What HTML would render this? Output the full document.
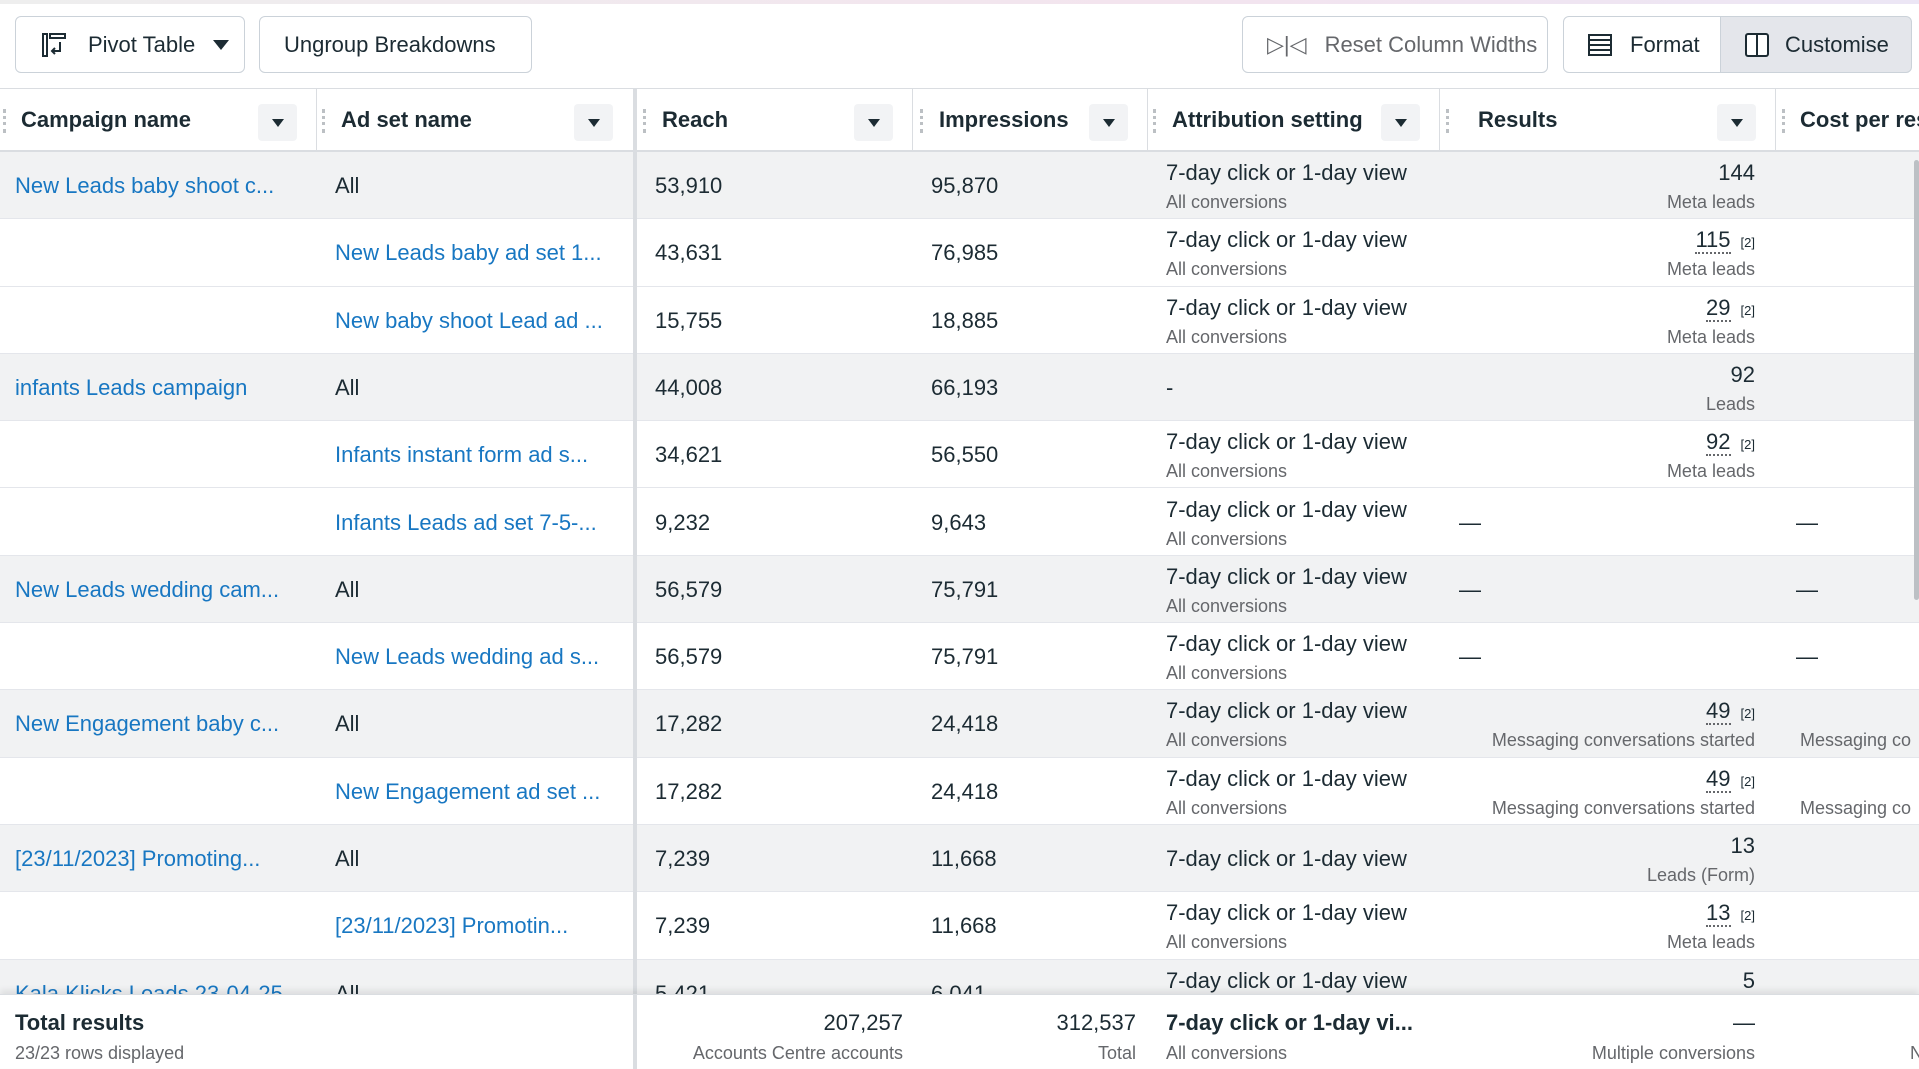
<!DOCTYPE html>
<html><head><meta charset="utf-8"><style>
*{box-sizing:border-box;margin:0;padding:0}
body{width:1919px;height:1068px;overflow:hidden;background:#fff;font-family:"Liberation Sans",sans-serif;color:#1c2b33;position:relative}
.a{position:absolute;white-space:nowrap}
.btn{position:absolute;top:16px;height:57px;border:1px solid #cbd2d9;border-radius:6px;background:#fff;font-size:22px;display:flex;align-items:center;padding-left:24px;white-space:nowrap}
.hd{position:absolute;top:88px;height:64px;border-top:1px solid #dadde1;border-bottom:2px solid #dadde1;width:1919px;background:#fff}
.h{position:absolute;top:0;height:62px;display:flex;align-items:center;font-weight:bold;font-size:22px;white-space:nowrap}
.dd{position:absolute;top:15px;width:39px;height:37px;background:#f2f3f5;border-radius:4px}
.dd:after{content:"";position:absolute;left:14px;top:15px;border-left:6px solid transparent;border-right:6px solid transparent;border-top:8px solid #1c2b33}
.grip{position:absolute;top:20px;width:3px;height:24px;border-left:3px dotted #bcc0c4}
.vs{position:absolute;top:0;height:62px;border-left:1px solid #dadde1}
.r{position:absolute;left:0;width:1919px;height:67.3px;border-bottom:1px solid #e4e6eb}
.g{background:#f1f2f3}
.c{position:absolute;font-size:22px;line-height:26px;white-space:nowrap}
.s{position:absolute;font-size:18px;line-height:22px;color:#65676b;white-space:nowrap}
.l{color:#1877c2}
.m{top:21px}.sub{top:39px}.one{top:21px}
.rr{right:164px;text-align:right}
.u{border-bottom:2px dotted #65676b}
.sup{font-size:13px;margin-left:10px}
</style></head><body>
<div class="a" style="left:0;top:0;width:1919px;height:4px;background:linear-gradient(90deg,#eee 0%,#f3e4ee 60%,#ece6f5 100%)"></div>
<div class="btn" style="left:15px;width:230px"><svg width="28" height="28" viewBox="0 0 28 28" style="margin-right:20px"><rect x="3" y="3" width="4" height="22" fill="none" stroke="#1c2b33" stroke-width="2"/><rect x="10" y="3" width="15" height="4" fill="none" stroke="#1c2b33" stroke-width="2"/><path d="M20 11v9h-8m3-3l-3 3 3 3" fill="none" stroke="#1c2b33" stroke-width="2"/></svg>Pivot Table<span style="margin-left:18px;border-left:8px solid transparent;border-right:8px solid transparent;border-top:10px solid #1c2b33"></span></div>
<div class="btn" style="left:259px;width:273px">Ungroup Breakdowns</div>
<div class="btn" style="left:1242px;width:306px;color:#65676b"><span style="margin-right:18px;font-size:22px">▷|◁</span>Reset Column Widths</div>
<div class="btn" style="left:1563px;width:158px;border-radius:6px 0 0 6px"><span style="display:inline-block;width:24px;height:22px;border:2px solid #1c2b33;margin-right:18px;background:repeating-linear-gradient(#fff 0 3px,#1c2b33 3px 5px)"></span>Format</div>
<div class="btn" style="left:1720px;width:192px;background:#e4e6eb;border-radius:0 6px 6px 0"><span style="display:inline-block;width:24px;height:24px;border:2px solid #1c2b33;border-radius:3px;margin-right:16px;background:linear-gradient(90deg,#fff 0 9px,#1c2b33 9px 11px,#fff 11px)"></span>Customise</div>

<div class="hd">
<div class="grip" style="left:3px"></div><div class="h" style="left:21px">Campaign name</div><div class="dd" style="left:258px"></div>
<div class="vs" style="left:316px"></div><div class="grip" style="left:322px"></div><div class="h" style="left:341px">Ad set name</div><div class="dd" style="left:574px"></div>
<div class="grip" style="left:643px"></div><div class="h" style="left:662px">Reach</div><div class="dd" style="left:854px"></div>
<div class="vs" style="left:912px"></div><div class="grip" style="left:920px"></div><div class="h" style="left:939px">Impressions</div><div class="dd" style="left:1089px"></div>
<div class="vs" style="left:1147px"></div><div class="grip" style="left:1153px"></div><div class="h" style="left:1172px">Attribution setting</div><div class="dd" style="left:1381px"></div>
<div class="vs" style="left:1439px"></div><div class="grip" style="left:1446px"></div><div class="h" style="left:1478px">Results</div><div class="dd" style="left:1717px"></div>
<div class="vs" style="left:1775px"></div><div class="grip" style="left:1782px"></div><div class="h" style="left:1800px">Cost per res</div>
</div>

<div id="rows">
<div class="r g" style="top:152px"><div class="c l one" style="left:15px">New Leads baby shoot c...</div><div class="c one" style="left:335px">All</div><div class="c one" style="left:655px">53,910</div><div class="c one" style="left:931px">95,870</div><div class="c m" style="left:1166px;top:8px">7-day click or 1-day view</div><div class="s" style="left:1166px;top:39px">All conversions</div><div class="c rr" style="top:8px">144</div><div class="s rr" style="top:39px">Meta leads</div></div>
<div class="r" style="top:219.3px"><div class="c l one" style="left:335px">New Leads baby ad set 1...</div><div class="c one" style="left:655px">43,631</div><div class="c one" style="left:931px">76,985</div><div class="c" style="left:1166px;top:8px">7-day click or 1-day view</div><div class="s" style="left:1166px;top:39px">All conversions</div><div class="c rr" style="top:8px"><span class="u">115</span><span class="sup">[2]</span></div><div class="s rr" style="top:39px">Meta leads</div></div>
<div class="r" style="top:286.6px"><div class="c l one" style="left:335px">New baby shoot Lead ad ...</div><div class="c one" style="left:655px">15,755</div><div class="c one" style="left:931px">18,885</div><div class="c" style="left:1166px;top:8px">7-day click or 1-day view</div><div class="s" style="left:1166px;top:39px">All conversions</div><div class="c rr" style="top:8px"><span class="u">29</span><span class="sup">[2]</span></div><div class="s rr" style="top:39px">Meta leads</div></div>
<div class="r g" style="top:353.9px"><div class="c l one" style="left:15px">infants Leads campaign</div><div class="c one" style="left:335px">All</div><div class="c one" style="left:655px">44,008</div><div class="c one" style="left:931px">66,193</div><div class="c one" style="left:1166px">-</div><div class="c rr" style="top:8px">92</div><div class="s rr" style="top:39px">Leads</div></div>
<div class="r" style="top:421.2px"><div class="c l one" style="left:335px">Infants instant form ad s...</div><div class="c one" style="left:655px">34,621</div><div class="c one" style="left:931px">56,550</div><div class="c" style="left:1166px;top:8px">7-day click or 1-day view</div><div class="s" style="left:1166px;top:39px">All conversions</div><div class="c rr" style="top:8px"><span class="u">92</span><span class="sup">[2]</span></div><div class="s rr" style="top:39px">Meta leads</div></div>
<div class="r" style="top:488.5px"><div class="c l one" style="left:335px">Infants Leads ad set 7-5-...</div><div class="c one" style="left:655px">9,232</div><div class="c one" style="left:931px">9,643</div><div class="c" style="left:1166px;top:8px">7-day click or 1-day view</div><div class="s" style="left:1166px;top:39px">All conversions</div><div class="c one" style="left:1459px">—</div><div class="c one" style="left:1796px">—</div></div>
<div class="r g" style="top:555.8px"><div class="c l one" style="left:15px">New Leads wedding cam...</div><div class="c one" style="left:335px">All</div><div class="c one" style="left:655px">56,579</div><div class="c one" style="left:931px">75,791</div><div class="c" style="left:1166px;top:8px">7-day click or 1-day view</div><div class="s" style="left:1166px;top:39px">All conversions</div><div class="c one" style="left:1459px">—</div><div class="c one" style="left:1796px">—</div></div>
<div class="r" style="top:623.1px"><div class="c l one" style="left:335px">New Leads wedding ad s...</div><div class="c one" style="left:655px">56,579</div><div class="c one" style="left:931px">75,791</div><div class="c" style="left:1166px;top:8px">7-day click or 1-day view</div><div class="s" style="left:1166px;top:39px">All conversions</div><div class="c one" style="left:1459px">—</div><div class="c one" style="left:1796px">—</div></div>
<div class="r g" style="top:690.4px"><div class="c l one" style="left:15px">New Engagement baby c...</div><div class="c one" style="left:335px">All</div><div class="c one" style="left:655px">17,282</div><div class="c one" style="left:931px">24,418</div><div class="c" style="left:1166px;top:8px">7-day click or 1-day view</div><div class="s" style="left:1166px;top:39px">All conversions</div><div class="c rr" style="top:8px"><span class="u">49</span><span class="sup">[2]</span></div><div class="s rr" style="top:39px">Messaging conversations started</div><div class="s" style="left:1800px;top:39px">Messaging co</div></div>
<div class="r" style="top:757.7px"><div class="c l one" style="left:335px">New Engagement ad set ...</div><div class="c one" style="left:655px">17,282</div><div class="c one" style="left:931px">24,418</div><div class="c" style="left:1166px;top:8px">7-day click or 1-day view</div><div class="s" style="left:1166px;top:39px">All conversions</div><div class="c rr" style="top:8px"><span class="u">49</span><span class="sup">[2]</span></div><div class="s rr" style="top:39px">Messaging conversations started</div><div class="s" style="left:1800px;top:39px">Messaging co</div></div>
<div class="r g" style="top:825px"><div class="c l one" style="left:15px">[23/11/2023] Promoting...</div><div class="c one" style="left:335px">All</div><div class="c one" style="left:655px">7,239</div><div class="c one" style="left:931px">11,668</div><div class="c one" style="left:1166px">7-day click or 1-day view</div><div class="c rr" style="top:8px">13</div><div class="s rr" style="top:39px">Leads (Form)</div></div>
<div class="r" style="top:892.3px"><div class="c l one" style="left:335px">[23/11/2023] Promotin...</div><div class="c one" style="left:655px">7,239</div><div class="c one" style="left:931px">11,668</div><div class="c" style="left:1166px;top:8px">7-day click or 1-day view</div><div class="s" style="left:1166px;top:39px">All conversions</div><div class="c rr" style="top:8px"><span class="u">13</span><span class="sup">[2]</span></div><div class="s rr" style="top:39px">Meta leads</div></div>
<div class="r g" style="top:959.6px"><div class="c l one" style="left:15px">Kala Klicks Leads 23-04-25</div><div class="c one" style="left:335px">All</div><div class="c one" style="left:655px">5,421</div><div class="c one" style="left:931px">6,041</div><div class="c" style="left:1166px;top:8px">7-day click or 1-day view</div><div class="c rr" style="top:8px">5</div></div>
</div>
<div class="a" style="left:633px;top:88px;width:4px;height:980px;background:#dadde1"></div>
<div class="a" style="left:1914px;top:160px;width:5px;height:440px;background:#bcc0c4;border-radius:3px"></div>

<div class="a" style="left:0;top:994px;width:1919px;height:74px;background:#fff;border-top:1px solid #dadde1;box-shadow:0 -4px 6px rgba(0,0,0,0.08)">
<div class="c" style="left:15px;top:15px;font-weight:bold">Total results</div>
<div class="s" style="left:15px;top:47px">23/23 rows displayed</div>
<div class="a" style="left:633px;top:0;width:4px;height:74px;background:#dadde1"></div>
<div class="c" style="right:1016px;top:15px">207,257</div>
<div class="s" style="right:1016px;top:47px">Accounts Centre accounts</div>
<div class="c" style="right:783px;top:15px">312,537</div>
<div class="s" style="right:783px;top:47px">Total</div>
<div class="c" style="left:1166px;top:15px;font-weight:bold">7-day click or 1-day vi...</div>
<div class="s" style="left:1166px;top:47px">All conversions</div>
<div class="c" style="right:164px;top:15px">—</div>
<div class="s" style="right:164px;top:47px">Multiple conversions</div>
<div class="s" style="left:1910px;top:47px">N</div>
</div>
</body></html>
